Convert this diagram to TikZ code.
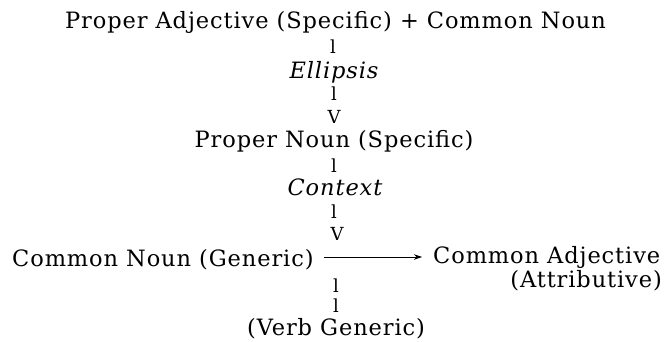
\documentclass[tikz,border=0pt]{standalone}
\usepackage{fontspec}
\setmainfont{DejaVu Serif}[LetterSpace=4]
\usetikzlibrary{arrows.meta}
\newcommand\reffont{\fontsize{22.5}{27}\selectfont}
\newcommand\glyphfont{\fontsize{18}{22}\selectfont}
\tikzset{
  lbl/.style={font=\reffont, inner sep=0pt, anchor=base},
  glyph/.style={font=\glyphfont, inner sep=0pt, anchor=base},
  conn/.style={-{Stealth[length=8pt,width=5.5pt]}, line width=0.8pt},
}
\begin{document}
\begin{tikzpicture}[x=1pt,y=-1pt]
\useasboundingbox[fill=white] (0,0) rectangle (668,341);
\node[lbl] (pa) at (335.5,28) {Proper Adjective (Specific) + Common Noun};
\node[glyph] (b1) at (333,53) {l};
\node[lbl] (el) at (334,78) {\itshape Ellipsis};
\node[glyph] (b2) at (334,100) {l};
\node[glyph] (v1) at (334,123) {V};
\node[lbl] (pn) at (334,147) {Proper Noun (Specific)};
\node[glyph] (b3) at (334,172) {l};
\node[lbl] (cx) at (335,195) {\itshape Context};
\node[glyph] (b4) at (334,218) {l};
\node[glyph] (v2) at (337,240) {V};
\node[lbl, anchor=base west] (cn) at (12,266) {Common Noun (Generic)};
\node[lbl, anchor=base west] (ca) at (433,263) {Common Adjective};
\node[lbl, anchor=base east] (at) at (662,287) {(Attributive)};
\node[glyph] (b5) at (336,292) {l};
\node[glyph] (b6) at (336,312) {l};
\node[lbl] (vg) at (336,335) {(Verb Generic)};
\coordinate (ay) at (0,257);
\draw[conn, shorten <=10pt, shorten >=11pt] (cn.east |- ay) -- (ca.west |- ay);
\end{tikzpicture}
\end{document}
